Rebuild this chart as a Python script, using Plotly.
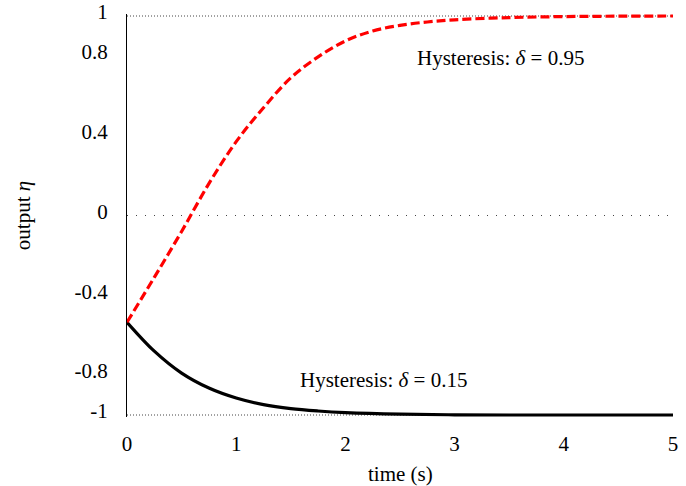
import plotly.graph_objects as go

# Data
t_red = [0, 0.25, 0.5, 0.75, 1.0, 1.25, 1.5, 1.75, 2.0, 2.25, 2.5, 2.75, 3.0, 3.5, 4.0, 4.5, 5.0]
eta_red = [-0.535, -0.31, -0.08, 0.16, 0.37, 0.54, 0.69, 0.795, 0.875, 0.925, 0.953, 0.97, 0.981, 0.992, 0.997, 0.999, 1.0]

t_black = [0, 0.25, 0.5, 0.75, 1.0, 1.25, 1.5, 1.75, 2.0, 2.5, 3.0, 3.5, 4.0, 4.5, 5.0]
eta_black = [-0.535, -0.68, -0.79, -0.865, -0.915, -0.948, -0.968, -0.98, -0.988, -0.996, -0.999, -1.0, -1.0, -1.0, -1.0]

ref_levels = [1, 0, -1]
x_ticks = [0, 1, 2, 3, 4, 5]
y_ticks = [-1, -0.8, -0.4, 0, 0.4, 0.8, 1]
y_tick_text = ["-1", "-0.8", "-0.4", "0", "0.4", "0.8", "1"]

labels = ["Hysteresis: <i>δ</i>\u2005=\u20050.95", "Hysteresis: <i>δ</i>\u2005=\u20050.15"]
label_t = [3.42, 2.35]
label_eta = [0.79, -0.825]

x_title = "time (s)"
y_title = "output <i>η</i>"

FONT = "Liberation Serif"
FS = 21

fig = go.Figure()
for lvl in ref_levels:
    fig.add_shape(type="line", xref="x", yref="y", x0=x_ticks[0], x1=x_ticks[-1], y0=lvl, y1=lvl,
                  line=dict(color="#444444", width=1, dash="1px,2px" if lvl != 0 else "1px,8px"),
                  layer="below")

fig.add_trace(go.Scatter(x=t_black, y=eta_black, mode="lines", line=dict(color="black", width=3.2, shape="spline"),
                         showlegend=False))
fig.add_trace(go.Scatter(x=t_red, y=eta_red, mode="lines",
                         line=dict(color="#ff0000", width=3.2, dash="9px,4px", shape="spline"),
                         showlegend=False))

for txt, tx, ty in zip(labels, label_t, label_eta):
    fig.add_annotation(x=tx, y=ty, xref="x", yref="y", text=txt, showarrow=False,
                       font=dict(family=FONT, size=FS, color="black"))

# x-axis title, low near the bottom edge as in the reference
fig.add_annotation(x=0.5, y=0, xref="paper", yref="paper", text=x_title, showarrow=False,
                   yanchor="middle", yshift=-57, font=dict(family=FONT, size=FS, color="black"))

fig.update_layout(
    width=686, height=486,
    margin=dict(l=127, r=13, t=14, b=69),
    paper_bgcolor="white", plot_bgcolor="white",
    font=dict(family=FONT, size=FS, color="black"),
    xaxis=dict(range=[0, 5], tickvals=x_ticks, showgrid=False, zeroline=False, showline=False,
               ticks="outside", ticklen=8, tickcolor="rgba(0,0,0,0)",
               automargin=False),
    yaxis=dict(range=[-1.01, 1.01], tickvals=y_ticks, ticktext=y_tick_text, showgrid=False, zeroline=False,
               showline=True, linecolor="black", linewidth=1,
               ticks="outside", ticklen=14, tickcolor="rgba(0,0,0,0)", ticklabelshift=-4,
               title=dict(text=y_title, standoff=38, font=dict(family=FONT, size=FS)),
               automargin=False),
)

fig.write_html("out.html")
